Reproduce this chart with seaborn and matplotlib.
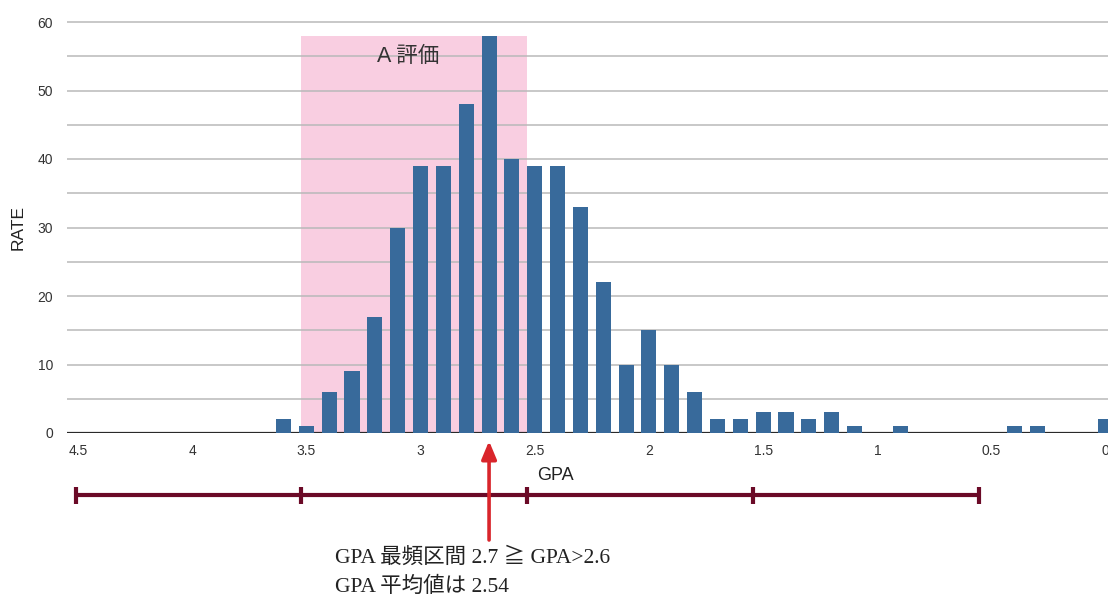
import numpy as np
import pandas as pd
import seaborn as sns
import matplotlib.pyplot as plt
from matplotlib.patches import Rectangle
from matplotlib.transforms import blended_transform_factory

#%% data
gpa = [3.6, 3.5, 3.4, 3.3, 3.2, 3.1, 3.0, 2.9, 2.8, 2.7, 2.6, 2.5, 2.4,
       2.3, 2.2, 2.1, 2.0, 1.9, 1.8, 1.7, 1.6, 1.5, 1.4, 1.3, 1.2, 1.1,
       1.0, 0.9, 0.8, 0.7, 0.6, 0.5, 0.4, 0.3, 0.2, 0.1, 0.0]
rate = [2, 1, 6, 9, 17, 30, 39, 39, 48, 58, 40, 39, 39,
        33, 22, 10, 15, 10, 6, 2, 2, 3, 3, 2, 3, 1,
        0, 1, 0, 0, 0, 0, 1, 1, 0, 0, 2]
xticks = [4.5, 4, 3.5, 3, 2.5, 2, 1.5, 1, 0.5, 0]
xtick_labels = ['4.5', '4', '3.5', '3', '2.5', '2', '1.5', '1', '0.5', '0']
yticks = [0, 10, 20, 30, 40, 50, 60]
grade_edges = [4.51, 3.524, 2.535, 1.546, 0.553]   # bracket marks under the axis
a_band = (3.524, 2.535)   # pink "A 評価" range
mode_gpa = 2.7
note_lines = ['GPA 最頻区間 2.7 ≧ GPA>2.6', 'GPA 平均値は 2.54']

df = pd.DataFrame({'GPA': gpa, 'RATE': rate})

#%% style
sns.set_theme(style='white')
plt.rcParams['font.family'] = ['Liberation Sans', 'Noto Sans CJK JP']

W, H = 1108, 597
fig = plt.figure(figsize=(W / 100, H / 100), dpi=100)

def fx(px):
    return px / W

def fy(py):
    return 1 - py / H

ax = fig.add_axes([fx(67), fy(433), 1 - fx(67), (433 - 22) / H * 60.5 / 60])

bar_col = '#386a9b'
pink = '#f9cee1'
maroon = '#6b0a27'
red = '#d9252b'

ax.add_patch(Rectangle((a_band[1], 0), a_band[0] - a_band[1], 58,
                       facecolor=pink, edgecolor='none', zorder=0.2))

sns.barplot(data=df, x='GPA', y='RATE', native_scale=True, width=0.66,
            color=bar_col, saturation=1, linewidth=0, ax=ax, zorder=2)

ax.set_xlim(4.548, -0.01)
ax.set_ylim(0, 60.5)
ax.set_xticks(xticks)
ax.set_xticklabels(xtick_labels)
ax.set_yticks(yticks)
ax.set_yticks(np.arange(5, 60, 10), minor=True)
ax.grid(axis='y', which='both', color='#b9b9b9', lw=1.1, zorder=0.5)
ax.set_axisbelow(True)
ax.axhline(0, color='#2a2a2a', lw=1.6, zorder=1.5)
for s in ax.spines.values():
    s.set_visible(False)
ax.tick_params(axis='both', which='both', length=0, labelsize=10, colors='#333333')
ax.tick_params(axis='x', pad=8)
ax.tick_params(axis='y', pad=10)
ax.set_xlabel('')
ax.set_ylabel('')

# labels
fig.text(fx(18), fy(228), 'RATE', rotation=90, ha='center', va='center',
         fontsize=12.5, color='#222222')
fig.text(fx(555), fy(476), 'GPA', ha='center', va='center',
         fontsize=13, color='#222222')
fig.text(fx(408), fy(57), 'A 評価', ha='center', va='center',
         fontsize=15.5, color='#333333')

# grade bracket below the axis
trans = blended_transform_factory(ax.transData, fig.transFigure)
yb = fy(495)
ax.plot([grade_edges[0], grade_edges[-1]], [yb, yb], color=maroon, lw=3,
        transform=trans, clip_on=False, solid_capstyle='butt')
for e in grade_edges:
    ax.plot([e, e], [fy(487), fy(504)], color=maroon, lw=3,
            transform=trans, clip_on=False, solid_capstyle='butt')

# arrow to the modal bin
ax.annotate('', xy=(mode_gpa, fy(441)), xycoords=trans,
            xytext=(mode_gpa, fy(540)), textcoords=trans,
            arrowprops=dict(arrowstyle='-|>,head_length=0.6,head_width=0.25',
                            color=red, lw=2.6, mutation_scale=18,
                            shrinkA=0, shrinkB=0))

for i, line in enumerate(note_lines):
    fig.text(fx(335), fy(558 + 29 * i), line, ha='left', va='center',
             fontsize=15.5, color='#222222',
             family=['Liberation Serif', 'Noto Sans CJK JP'])

fig.savefig('out.png', dpi=100)
